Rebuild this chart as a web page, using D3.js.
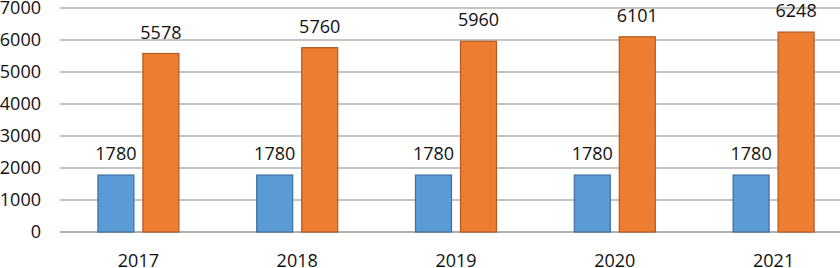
<!DOCTYPE html>
<html>
<head>
<meta charset="utf-8">
<script src="https://cdn.jsdelivr.net/npm/d3@7"></script>
<style>
  body { margin: 0; background: #fff; }
  text { font-family: "Open Sans", "Liberation Sans", sans-serif; fill: #111; }
</style>
</head>
<body>
<svg id="chart"></svg>
<script>
const years = ['2017', '2018', '2019', '2020', '2021'];
const seriesA = [1780, 1780, 1780, 1780, 1780];
const seriesB = [5578, 5760, 5960, 6101, 6248];
const yTicks = [0, 1000, 2000, 3000, 4000, 5000, 6000, 7000];

const width = 840,
    height = 268,
    barWidth = 36,
    barGap = 9,
    fontSize = '18px';

const svg = d3.select('#chart')
    .attr('width', width)
    .attr('height', height);

const x = d3.scaleBand()
    .domain(years)
    .range([59, 853]);

const y = d3.scaleLinear()
    .domain([0, 7000])
    .range([232, 8]);

// Gridlines
svg.append('g')
    .selectAll('line')
    .data(yTicks)
    .join('line')
    .attr('x1', 60)
    .attr('x2', width)
    .attr('y1', d => y(d))
    .attr('y2', d => y(d))
    .attr('stroke', d => d === 0 ? '#b0b0b0' : '#c4c4c4')
    .attr('stroke-width', 1.8);

// Y tick labels
svg.append('g')
    .selectAll('text')
    .data(yTicks)
    .join('text')
    .attr('x', 41)
    .attr('y', d => y(d))
    .attr('dy', '0.36em')
    .attr('text-anchor', 'end')
    .attr('font-size', fontSize)
    .text(d => d);

const series = [
    { values: seriesA, fill: '#5b9bd5', stroke: '#3f6f9f', offset: -barGap / 2 - barWidth },
    { values: seriesB, fill: '#ed7d31', stroke: '#b25a1f', offset: barGap / 2 }
];

const center = d => x(d) + x.bandwidth() / 2;

series.forEach(function (s) {
    var g = svg.append('g');

    g.selectAll('rect')
        .data(years)
        .join('rect')
        .attr('x', (d, i) => center(d) + s.offset)
        .attr('y', (d, i) => y(s.values[i]))
        .attr('width', barWidth)
        .attr('height', (d, i) => y(0) - y(s.values[i]))
        .attr('fill', s.fill)
        .attr('stroke', s.stroke)
        .attr('stroke-width', 1.2);

    g.selectAll('text')
        .data(years)
        .join('text')
        .attr('x', (d, i) => center(d) + s.offset + barWidth / 2)
        .attr('y', (d, i) => y(s.values[i]) - 15)
        .attr('text-anchor', 'middle')
        .attr('font-size', fontSize)
        .text((d, i) => s.values[i]);
});

// Category labels
svg.append('g')
    .selectAll('text')
    .data(years)
    .join('text')
    .attr('x', d => center(d))
    .attr('y', 267)
    .attr('text-anchor', 'middle')
    .attr('font-size', fontSize)
    .text(d => d);
</script>
</body>
</html>
